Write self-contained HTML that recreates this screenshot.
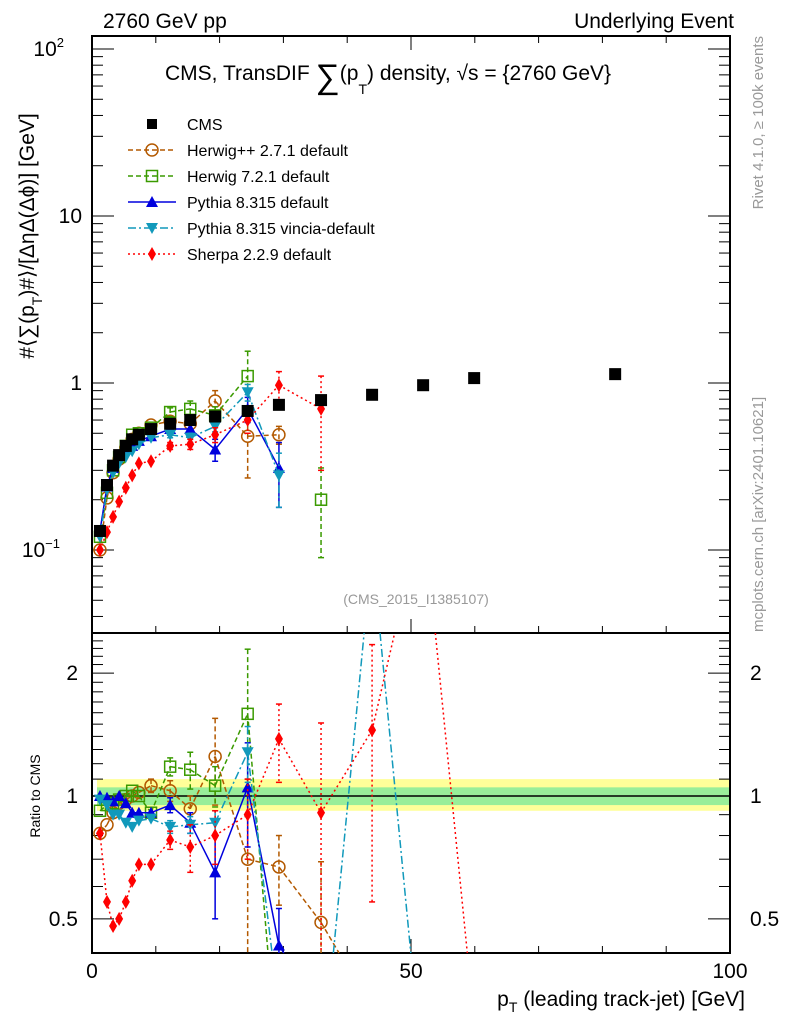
<!DOCTYPE html>
<html><head><meta charset="utf-8">
<style>
html,body{margin:0;padding:0;background:#fff;overflow:hidden;width:786px;height:1024px;}
svg{display:block;}
svg text{font-family:"Liberation Sans",sans-serif;}
</style></head>
<body>
<svg id="chart" width="786" height="1024" viewBox="0 0 786 1024" xmlns="http://www.w3.org/2000/svg">
<g id="band"></g>
<g id="axes"></g>
<g id="marks"></g>
<g id="legend"></g>
<text x="103" y="28" font-size="21">2760 GeV pp</text>
<text x="734" y="28" font-size="21" text-anchor="end">Underlying Event</text>
<text x="165" y="80" font-size="21">CMS, TransDIF <tspan font-size="34" dy="8">∑</tspan><tspan dy="-8">(p</tspan><tspan font-size="14" dy="14">T</tspan><tspan dy="-14">) density, √s = {2760 GeV}</tspan></text>
<text transform="translate(34,236) rotate(-90)" font-size="21" text-anchor="middle">#⟨∑(p<tspan font-size="14" dy="8">T</tspan><tspan dy="-8">)#⟩/[ΔηΔ(Δϕ)] [GeV]</tspan></text>
<text transform="translate(40,796) rotate(-90)" font-size="14" text-anchor="middle">Ratio to CMS</text>
<text x="745" y="1006" font-size="21" text-anchor="end">p<tspan font-size="14" dy="6">T</tspan><tspan dy="-6"> (leading track-jet) [GeV]</tspan></text>
<text transform="translate(763,36) rotate(-90)" font-size="15" fill="#999" text-anchor="end">Rivet 4.1.0, ≥ 100k events</text>
<text transform="translate(763,632) rotate(-90)" font-size="15" fill="#999">mcplots.cern.ch [arXiv:2401.10621]</text>
<text x="416" y="604" font-size="14" fill="#999" text-anchor="middle">(CMS_2015_I1385107)</text>
</svg>
<script>
const xVals=[1.25,2.35,3.3,4.25,5.3,6.3,7.35,9.25,12.25,15.4,19.3,24.4,29.3,35.9,43.9,51.9,59.9,82];
const cmsMain=[0.13,0.245,0.32,0.37,0.42,0.46,0.49,0.53,0.57,0.60,0.63,0.68,0.74,0.79,0.85,0.97,1.07,1.13];
const hppMain=[0.10,0.205,0.29,0.35,0.41,0.46,0.5,0.56,0.59,0.57,0.78,0.48,0.49,null,null,null,null,null];
const h7Main=[0.12,0.22,0.30,0.36,0.42,0.49,0.5,0.54,0.67,0.70,0.64,1.1,null,0.2,null,null,null,null];
const pyMain=[0.13,0.24,0.31,0.37,0.40,0.42,0.45,0.48,0.53,0.53,0.40,0.70,0.31,null,null,null,null,null];
const vinMain=[0.12,0.23,0.29,0.33,0.36,0.39,0.43,0.47,0.49,0.47,0.55,0.88,0.28,null,null,null,null,null];
const shMain=[0.10,0.128,0.158,0.195,0.236,0.28,0.33,0.34,0.42,0.43,0.49,0.60,0.97,0.70,null,null,null,null];
const hppMainErr=[0,0,0,0,0,0,0,0,0.03,0.05,0.12,0.21,0.06,0,0,0,0,0];
const h7MainErr=[0,0,0,0,0,0,0,0,0.04,0.08,0.08,0.45,0,0.11,0,0,0,0];
const pyMainErr=[0,0,0,0,0,0,0,0,0.02,0.03,0.06,0.12,0.13,0,0,0,0,0];
const vinMainErr=[0,0,0,0,0,0,0,0,0.02,0.03,0.04,0.1,0.1,0,0,0,0,0];
const shMainErr=[0,0,0,0,0,0,0,0,0.02,0.03,0.05,0.1,0.2,0.4,0,0,0,0];
const hppRatio=[0.81,0.85,0.91,0.96,0.98,1.0,1.02,1.06,1.03,0.93,1.25,0.70,0.67,0.49,0.3,null,null,null];
const h7Ratio=[0.92,0.95,0.96,0.98,1.0,1.03,1.0,0.91,1.18,1.16,1.06,1.59,0.2,null,null,null,null,null];
const pyRatio=[1.0,0.99,0.97,1.0,0.96,0.91,0.91,0.91,0.95,0.86,0.65,1.05,0.43,0.3,null,null,null,null];
const vinRatio=[0.98,0.95,0.9,0.9,0.86,0.84,0.87,0.88,0.84,0.85,0.86,1.28,0.3,0.2,4.0,0.2,null,null];
const shRatio=[0.81,0.55,0.48,0.5,0.55,0.62,0.68,0.68,0.78,0.75,0.8,0.9,1.38,0.91,1.45,5.0,0.28,null];
const hppRatioErr=[0,0,0,0,0,0,0,0.04,0.06,0.07,0.3,0.4,0.13,0.2,0,0,0,0];
const h7RatioErr=[0,0,0,0,0,0,0,0,0.06,0.12,0.12,0.7,0,0,0,0,0,0];
const pyRatioErr=[0,0,0,0,0,0,0,0,0.04,0.05,0.15,0.3,0.1,0,0,0,0,0];
const vinRatioErr=[0,0,0,0,0,0,0,0,0.03,0.04,0.06,0.2,0,0,0,0,0,0];
const shRatioErr=[0,0,0,0,0,0,0,0,0.04,0.1,0.12,0.2,0.3,0.6,0.9,0,0,0];
const xTicks=[0,50,100];
const NS="http://www.w3.org/2000/svg";
const X0=92,X1=730,MT=36,MB=633,RB=953;
const xs=v=>X0+(X1-X0)*v/100;
const ym=v=>383-167*Math.log10(v);
const yr=v=>796-408*Math.log10(v);
function el(t,a,p){const e=document.createElementNS(NS,t);for(const k in a)e.setAttribute(k,a[k]);p.appendChild(e);return e;}
const axes=document.getElementById('axes'),marks=document.getElementById('marks'),band=document.getElementById('band'),leg=document.getElementById('legend');
let b1=el('rect',{x:97,y:yr(1.1),width:X1-97,height:yr(0.92)-yr(1.1),fill:'#ffff99'},band);

let b2=el('rect',{x:97,y:yr(1.05),width:X1-97,height:yr(0.95)-yr(1.05),fill:'#99ee99'},band);

let f1=el('rect',{x:X0,y:MT,width:X1-X0,height:MB-MT,fill:'none',stroke:'#000','stroke-width':2},axes);

let f2=el('rect',{x:X0,y:MB,width:X1-X0,height:RB-MB,fill:'none',stroke:'#000','stroke-width':2},axes);

let l1=el('line',{x1:X0,x2:X1,y1:yr(1),y2:yr(1),stroke:'#000','stroke-width':1.5},axes);

for(let v=0;v<=100;v+=10){const L=v%50===0?14:7;
 el('line',{x1:xs(v),x2:xs(v),y1:MB,y2:MB-L,stroke:'#000'},axes);
 el('line',{x1:xs(v),x2:xs(v),y1:MT,y2:MT+L,stroke:'#000'},axes);
 el('line',{x1:xs(v),x2:xs(v),y1:RB,y2:RB-L,stroke:'#000'},axes);}
xTicks.forEach(v=>{const t=el('text',{x:xs(v),y:978,'font-size':21,'text-anchor':'middle'},axes);t.textContent=v;
 });
for(let d=-2;d<=2;d++)for(let m=1;m<10;m++){const v=m*Math.pow(10,d);const y=ym(v);if(y<MT||y>MB)continue;const L=m===1?22:11;
 el('line',{x1:X0,x2:X0+L,y1:y,y2:y,stroke:'#000'},axes);el('line',{x1:X1,x2:X1-L,y1:y,y2:y,stroke:'#000'},axes);}
[[100,'10','2',64],[10,'10','',82],[1,'1','',82],[0.1,'10','−1',60]].forEach(([v,b,e,x])=>{const t=el('text',{x:x,y:ym(v)+7,'font-size':21,'text-anchor':'end'},axes);
 t.textContent=b;if(e){const s=el('tspan',{'font-size':13,dy:-9},t);s.textContent=e;}
 });
for(let v=0.4;v<=2.5;v+=0.1){const y=yr(v);if(y<MB||y>RB)continue;const maj=Math.abs(v-0.5)<1e-6||Math.abs(v-1)<1e-6||Math.abs(v-2)<1e-6;const L=maj?22:11;
 el('line',{x1:X0,x2:X0+L,y1:y,y2:y,stroke:'#000'},axes);el('line',{x1:X1,x2:X1-L,y1:y,y2:y,stroke:'#000'},axes);}
[[2,'2'],[1,'1'],[0.5,'0.5']].forEach(([v,s])=>{[[78,'end'],[750,'start']].forEach(([x,a])=>{const t=el('text',{x:x,y:yr(v)+7,'font-size':21,'text-anchor':a},axes);t.textContent=s;
 });});
function marker(type,x,y,col,p){const s=6;
 if(type==='sq')return el('rect',{x:x-s,y:y-s,width:2*s,height:2*s,fill:'#000'},p);
 if(type==='osq')return el('rect',{x:x-5.5,y:y-5.5,width:11,height:11,fill:'none',stroke:col,'stroke-width':1.5},p);
 if(type==='circ')return el('circle',{cx:x,cy:y,r:6,fill:'none',stroke:col,'stroke-width':1.5},p);
 if(type==='tri')return el('polygon',{points:`${x},${y-6} ${x-6},${y+5} ${x+6},${y+5}`,fill:col},p);
 if(type==='itri')return el('polygon',{points:`${x},${y+6} ${x-6},${y-5} ${x+6},${y-5}`,fill:col},p);
 if(type==='dia')return el('polygon',{points:`${x},${y-7} ${x-4},${y} ${x},${y+7} ${x+4},${y}`,fill:col},p);}
const series=[
 {name:'herwigpp',main:hppMain,ratio:hppRatio,me:hppMainErr,re:hppRatioErr,col:'#b35900',dash:'5,3',m:'circ',label:'Herwig++ 2.7.1 default'},
 {name:'herwig7',main:h7Main,ratio:h7Ratio,me:h7MainErr,re:h7RatioErr,col:'#3a9a00',dash:'5,3',m:'osq',label:'Herwig 7.2.1 default'},
 {name:'pythia',main:pyMain,ratio:pyRatio,me:pyMainErr,re:pyRatioErr,col:'#0000dd',dash:'',m:'tri',label:'Pythia 8.315 default'},
 {name:'vincia',main:vinMain,ratio:vinRatio,me:vinMainErr,re:vinRatioErr,col:'#1199bb',dash:'8,3,2,3',m:'itri',label:'Pythia 8.315 vincia-default'},
 {name:'sherpa',main:shMain,ratio:shRatio,me:shMainErr,re:shRatioErr,col:'#ff0000',dash:'2,3',m:'dia',label:'Sherpa 2.2.9 default'}];
const clampY=(y,t,b)=>Math.min(b,Math.max(t,y));
function clipSeg(p,q,t,b){let [x1,y1]=p,[x2,y2]=q;
 if((y1<t&&y2<t)||(y1>b&&y2>b))return null;
 const fx=(yy)=>x1+(x2-x1)*(yy-y1)/(y2-y1);
 let a=[x1,y1],c=[x2,y2];
 if(y1<t)a=[fx(t),t];else if(y1>b)a=[fx(b),b];
 if(y2<t)c=[fx(t),t];else if(y2>b)c=[fx(b),b];
 return [a,c];}
function drawSeries(vals,errs,yf,top,bot,s,tag){const g=el('g',{},marks);
 
 vals.forEach((v,i)=>{const e=errs[i];if(v==null||!e)return;const x=xs(xVals[i]);const lo=Math.max(v-e,0.01);
  const yt=yf(v+e),yb=yf(lo);const a={x1:x,x2:x,y1:clampY(yt,top,bot),y2:clampY(yb,top,bot),stroke:s.col,'stroke-width':1.5};if(s.dash)a['stroke-dasharray']=s.dash;
  const eb=el('line',a,g);
  if(yt>=top&&yt<=bot)el('line',{x1:x-3,x2:x+3,y1:yt,y2:yt,stroke:s.col,'stroke-width':1.5},g);
  if(yb>=top&&yb<=bot)el('line',{x1:x-3,x2:x+3,y1:yb,y2:yb,stroke:s.col,'stroke-width':1.5},g);});
 let prev=null;vals.forEach((v,i)=>{if(v==null){prev=null;return;}const p=[xs(xVals[i]),yf(v)];
  if(prev){const c=clipSeg(prev,p,top,bot);if(c){const a={x1:c[0][0],y1:c[0][1],x2:c[1][0],y2:c[1][1],stroke:s.col,'stroke-width':1.5};if(s.dash)a['stroke-dasharray']=s.dash;el('line',a,g);}}
  prev=p;});
 vals.forEach((v,i)=>{if(v==null)return;const y=yf(v);if(y<top||y>bot)return;const m=marker(s.m,xs(xVals[i]),y,s.col,g);
  });}
series.forEach(s=>{drawSeries(s.main,s.me,ym,MT,MB,s,'main');drawSeries(s.ratio,s.re,yr,MB,RB,s,'ratio');});
const cg=el('g',{},marks);
cmsMain.forEach((v,i)=>{const m=marker('sq',xs(xVals[i]),ym(v),'#000',cg);});
const rows=[{m:'sq',col:'#000',dash:null,label:'CMS'}].concat(series.map(s=>({m:s.m,col:s.col,dash:s.dash,label:s.label})));
rows.forEach((r,i)=>{const y=124+i*26;const g=el('g',{},leg);
 
 if(r.dash!==null){const a={x1:128,x2:176,y1:y,y2:y,stroke:r.col,'stroke-width':1.5};if(r.dash)a['stroke-dasharray']=r.dash;el('line',a,g);}
 if(r.m==='sq')el('rect',{x:147,y:y-5,width:10,height:10,fill:'#000'},g);else marker(r.m,152,y,r.col,g);
 const t=el('text',{x:187,y:y+6,'font-size':16},g);t.textContent=r.label;});
</script>
</body></html>
